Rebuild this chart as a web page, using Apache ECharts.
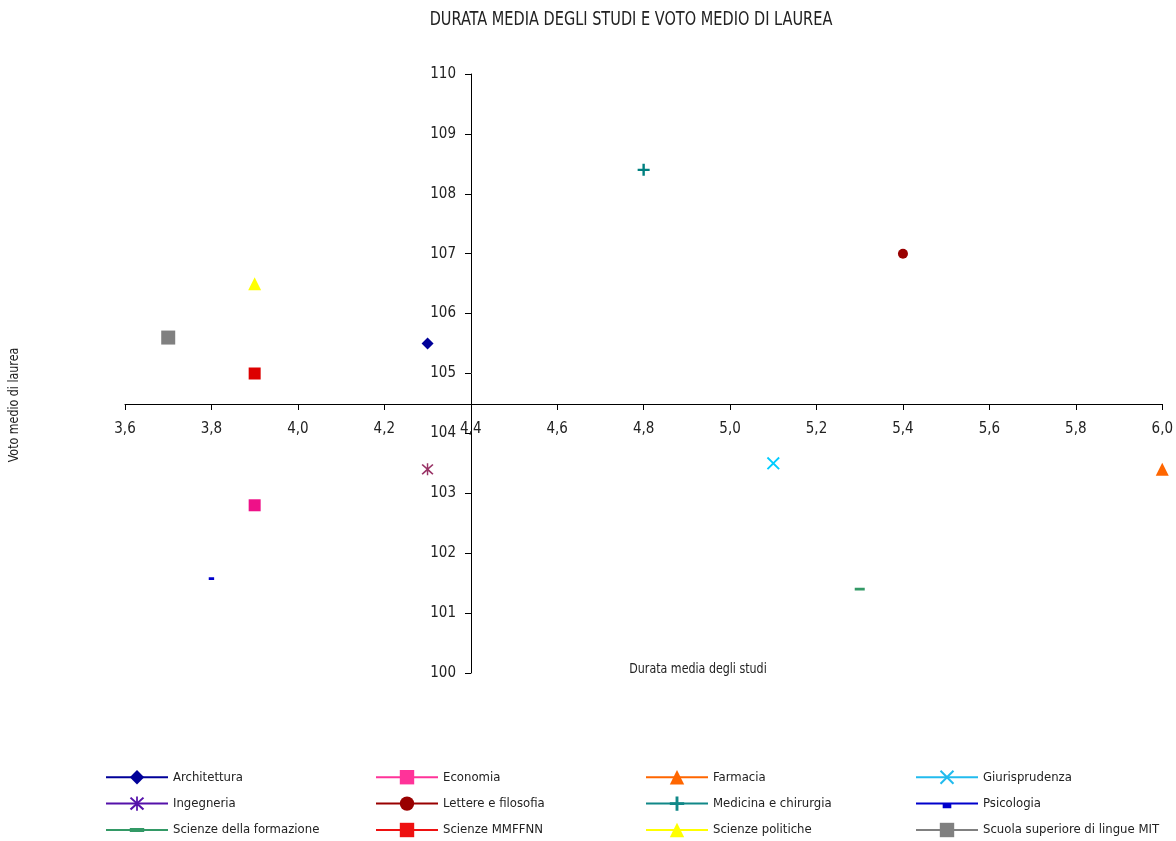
<!DOCTYPE html>
<html>
<head>
<meta charset="utf-8">
<script src="https://cdn.jsdelivr.net/npm/echarts@6/dist/echarts.min.js"></script>
<style>html,body{margin:0;padding:0;background:#fff}#c{width:1176px;height:841px}</style>
</head>
<body>
<div id="c"></div>
<script>
var FONT = "'Liberation Sans Narrow', 'DejaVu Sans Condensed', 'Roboto', sans-serif";

var seriesNames = ['Architettura','Economia','Farmacia','Giurisprudenza','Ingegneria','Lettere e filosofia','Medicina e chirurgia','Psicologia','Scienze della formazione','Scienze MMFFNN','Scienze politiche','Scuola superiore di lingue MIT'];
var durata = [4.3, 3.9, 6.0, 5.1, 4.3, 5.4, 4.8, 3.8, 5.3, 3.9, 3.9, 3.7];
var voto   = [105.5, 102.8, 103.4, 103.5, 103.4, 107.0, 108.4, 101.6, 101.4, 105.0, 106.5, 105.6];
var colors = ['#000099','#EE1188','#FF6600','#00CCFF','#993366','#990000','#008080','#0000CC','#339966','#DD0000','#FFFF00','#808080'];
var legendColors = ['#000099','#FF3399','#FF6600','#22BBEE','#5511AA','#990000','#118888','#0000CC','#339966','#EE1111','#FFFF00','#808080'];

var xTicks = {min: 3.6, max: 6.0, interval: 0.2};
var yTicks = {min: 100, max: 110, interval: 1};

var PLUS = 'path://M4,0H6V4H10V6H6V10H4V6H0V4H4Z';
var CROSS = 'path://M0,1L1,0L5,4L9,0L10,1L6,5L10,9L9,10L5,6L1,10L0,9L4,5Z';
var STAR = 'path://M0,1L1,0L5,4L9,0L10,1L6,5L10,9L9,10L5,6L1,10L0,9L4,5Z M4.4,-0.5H5.6V10.5H4.4Z';
// square bounding box (degenerate corner points) with a flat bar inside
var DASH = 'path://M0,0L0.001,0L0,0Z M10,10L10.001,10L10,10Z M0,3.6H10V6.4H0Z';
var DASH_LOW = 'path://M0,0L0.001,0L0,0Z M10,10L10.001,10L10,10Z M2,5H8V8.2H2Z';
var symbols = ['diamond','rect','triangle',CROSS,STAR,'circle',PLUS,DASH_LOW,DASH,'rect','triangle','rect'];
var sizes = [12,12,13,13,12,10,12,9,10,12,13,14];

var series = seriesNames.map(function(n,i){
  return {
    name: n, type: 'line', data: [[durata[i], voto[i]]],
    symbol: symbols[i], symbolSize: sizes[i], showSymbol: true,
    itemStyle: {color: colors[i], borderWidth: 0},
    lineStyle: {color: legendColors[i], width: 2},
    emphasis: {disabled: true}, animation: false
  };
});

var cols = [[0,4,8],[1,5,9],[2,6,10],[3,7,11]];
var colLeft = [105, 375, 645, 915];
var legends = cols.map(function(c,k){
  return {
    orient: 'vertical', left: colLeft[k], top: 770, padding: 0,
    itemWidth: 62, itemHeight: 18, itemGap: 12,
    textStyle: {fontFamily: FONT, fontSize: 13, color: '#222', padding: [0,0,0,0]},
    selectedMode: false,
    data: c.map(function(i){ return {name: seriesNames[i], itemStyle: {color: legendColors[i], borderWidth: 0}, lineStyle: {color: legendColors[i], width: 2}}; })
  };
});

var chart = echarts.init(document.getElementById('c'));
chart.setOption({
  animation: false,
  grid: {left: 125, right: 13, top: 74, bottom: 168, containLabel: false},
  xAxis: {
    type: 'value', min: xTicks.min, max: xTicks.max, interval: xTicks.interval,
    position: 'bottom', offset: -269,
    axisLine: {onZero: false, lineStyle: {color: '#000', width: 1}},
    axisTick: {show: true, length: 6, lineStyle: {color: '#000'}},
    splitLine: {show: false},
    axisLabel: {fontFamily: FONT, fontSize: 15, color: '#222', margin: 18,
      formatter: function(v){ return v.toFixed(1).replace('.', ','); }}
  },
  yAxis: {
    type: 'value', min: yTicks.min, max: yTicks.max, interval: yTicks.interval,
    position: 'left', offset: -346,
    axisLine: {show: true, onZero: false, lineStyle: {color: '#000', width: 1}},
    axisTick: {show: true, length: 6, lineStyle: {color: '#000'}},
    splitLine: {show: false},
    axisLabel: {fontFamily: FONT, fontSize: 15, color: '#222', margin: 15}
  },
  legend: legends,
  graphic: [
    {type: 'text', x: 631, y: 20, scaleX: 0.85, style: {text: 'DURATA MEDIA DEGLI STUDI E VOTO MEDIO DI LAUREA', font: '19px ' + FONT, fill: '#222', textAlign: 'center', textVerticalAlign: 'middle'}},
    {type: 'text', x: 698, y: 669, scaleX: 0.88, style: {text: 'Durata media degli studi', font: '14px ' + FONT, fill: '#222', textAlign: 'center', textVerticalAlign: 'middle'}},
    {type: 'text', x: 14, y: 405, rotation: Math.PI/2, scaleX: 0.88, style: {text: 'Voto medio di laurea', font: '14px ' + FONT, fill: '#222', textAlign: 'center', textVerticalAlign: 'middle'}}
  ],
  series: series
});
</script>
</body>
</html>
